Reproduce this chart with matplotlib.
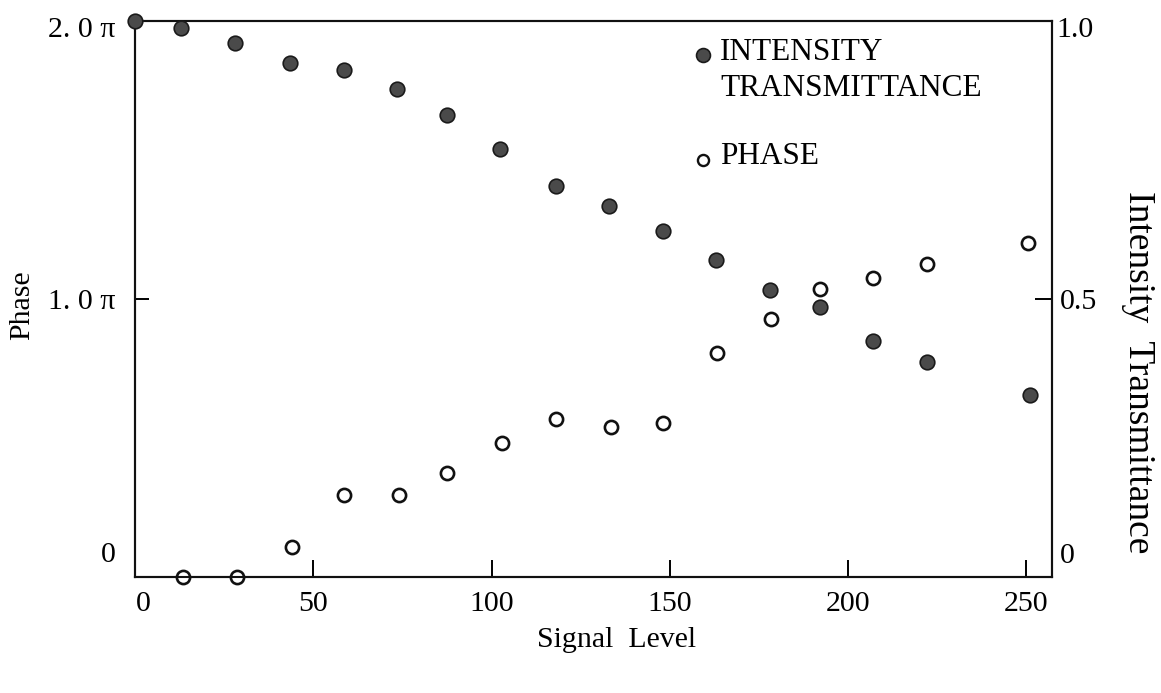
import matplotlib
matplotlib.use("Agg")
import matplotlib.pyplot as plt
from matplotlib.transforms import ScaledTranslation

# ---- data ----
signal_int = [0, 13, 28, 43.5, 58.5, 73.5, 87.5, 102.5, 118, 133, 148, 163, 178, 192, 207, 222, 251]
intensity = [1.0, 0.987, 0.961, 0.925, 0.911, 0.878, 0.831, 0.769, 0.704, 0.668, 0.622,
             0.570, 0.516, 0.485, 0.424, 0.386, 0.327]
signal_phase = [13.5, 28.5, 44, 58.7, 74, 87.6, 103, 118.2, 133.4, 148.1, 163.2, 178.3,
                192, 207, 222, 250.4]
phase_pi = [0, 0, 0.109, 0.294, 0.294, 0.373, 0.481, 0.569, 0.538, 0.555, 0.806, 0.927,
            1.035, 1.076, 1.127, 1.203]

x_ticks = [0, 50, 100, 150, 200, 250]
x_ticklabels = ["0", "50", "100", "150", "200", "250"]
phase_ticks = [0, 1, 2]
phase_ticklabels = ["0", "1. 0 \u03c0", "2. 0 \u03c0"]
int_ticks = [0, 0.5, 1.0]
int_ticklabels = ["0", "0.5", "1.0"]

FONT = "Liberation Serif"
FS = 21.5
FS_LEG = 22.5
plt.rcParams["font.family"] = [FONT, "DejaVu Serif"]

fig = plt.figure(figsize=(11.61, 6.93), dpi=100)
W, H = 1161, 693
L, R, T, B = 135, 1052, 21, 577
ax = fig.add_axes([L / W, 1 - B / H, (R - L) / W, (B - T) / H])
ax2 = ax.twinx()

def ax_px(x, y):
    return ((x - L) / (R - L), (B - y) / (B - T))

for a in (ax, ax2):
    for s in a.spines.values():
        s.set_linewidth(1.5)
        s.set_color("#111111")

ax.set_xlim(0, 257.2)
ax.set_ylim(0, 2)
ax2.set_ylim(0, 1)

ax.set_xticks(x_ticks)
ax.set_xticklabels(x_ticklabels, fontsize=FS)
ax.set_yticks(phase_ticks)
ax.set_yticklabels(phase_ticklabels, fontsize=FS)
ax2.set_yticks(int_ticks)
ax2.set_yticklabels(int_ticklabels, fontsize=FS)

ax.tick_params(axis="x", direction="in", length=12, width=1.4, pad=10, top=False)
ax.tick_params(axis="y", direction="in", length=10, width=1.4, pad=14)
ax2.tick_params(axis="y", direction="in", length=12, width=1.4, pad=6)

# tick label nudges as in the reference
def nudge(lbl, dx_px, dy_px):
    lbl.set_transform(lbl.get_transform() + ScaledTranslation(dx_px / 100, dy_px / 100, fig.dpi_scale_trans))

yl = ax.get_yticklabels()
nudge(yl[0], 0, 25)
nudge(yl[2], 0, -6)
yr = ax2.get_yticklabels()
nudge(yr[0], 0, 24)
nudge(yr[2], -4, -6)
xl = ax.get_xticklabels()
nudge(xl[0], 8, 0)

ax.set_xlabel("Signal  Level", fontsize=FS, va="center", ha="center")
ax.xaxis.set_label_coords(*ax_px(617, 640))
ax.set_ylabel("Phase", fontsize=FS, va="center", ha="center")
ax.yaxis.set_label_coords(*ax_px(22, 305))
ax2.set_ylabel("Intensity  Transmittance", fontsize=27, rotation=-90, va="center", ha="center")
ax2.yaxis.set_label_coords(*ax_px(1138, 372))

# data
ax.plot(signal_phase, phase_pi, linestyle="none", marker="o", markersize=9.5,
        markerfacecolor="white", markeredgecolor="#111111", markeredgewidth=1.9,
        clip_on=False, zorder=5)
ax2.plot(signal_int, intensity, linestyle="none", marker="o", markersize=10.5,
         markerfacecolor="#4a4a4a", markeredgecolor="#1a1a1a", markeredgewidth=1.2,
         clip_on=False, zorder=5)

# legend (manual, like the reference)
lx, ly = ax_px(703, 55)
ax2.plot([lx], [ly], transform=ax2.transAxes, marker="o", markersize=10,
         markerfacecolor="#4a4a4a", markeredgecolor="#1a1a1a", markeredgewidth=1.2,
         linestyle="none", clip_on=False)
tx, ty = ax_px(720, 52)
ax2.text(tx, ty, "INTENSITY", transform=ax2.transAxes, fontsize=FS_LEG, va="center", ha="left")
tx, ty = ax_px(720, 89)
ax2.text(tx, ty, "TRANSMITTANCE", transform=ax2.transAxes, fontsize=FS_LEG, va="center", ha="left")
lx, ly = ax_px(703, 160)
ax2.plot([lx], [ly], transform=ax2.transAxes, marker="o", markersize=8,
         markerfacecolor="white", markeredgecolor="#111111", markeredgewidth=1.7,
         linestyle="none", clip_on=False)
tx, ty = ax_px(720, 157)
ax2.text(tx, ty, "PHASE", transform=ax2.transAxes, fontsize=FS_LEG, va="center", ha="left")

fig.savefig("out.png", dpi=100, facecolor="white")
